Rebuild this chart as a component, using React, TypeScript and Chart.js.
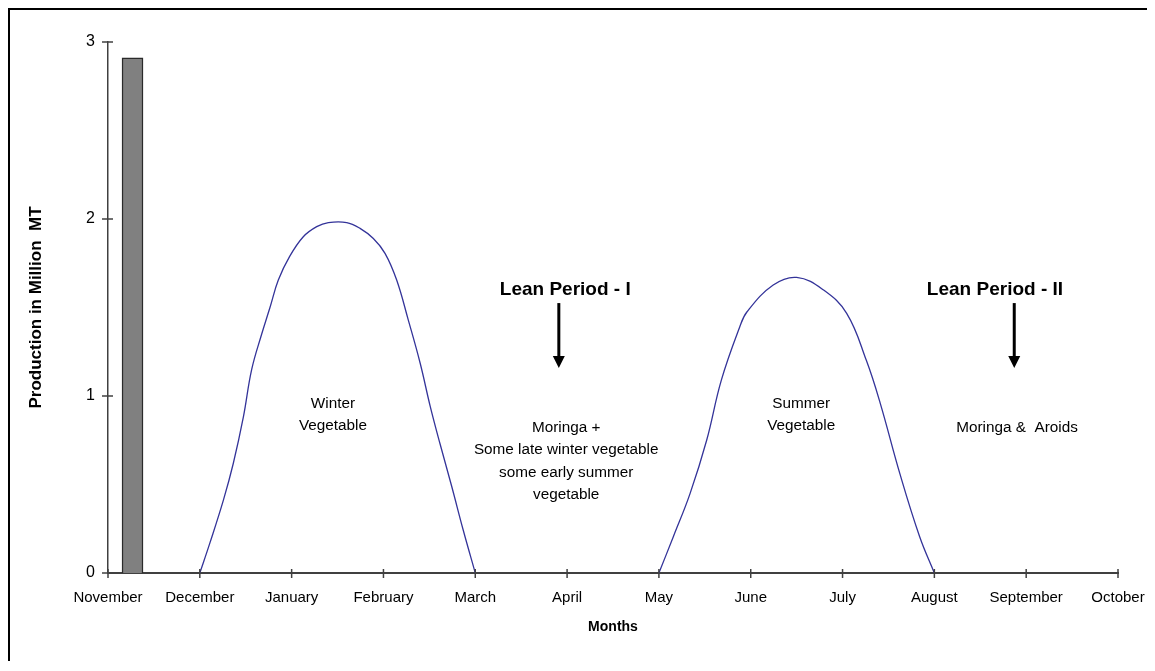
import React, { useEffect, useRef } from "react";
import { Chart, registerables } from "chart.js";

Chart.register(...registerables);

// ---- data ----
const monthLabels = [
  "November", "December", "January", "February", "March", "April",
  "May", "June", "July", "August", "September", "October",
];
const yTickValues = [0, 1, 2, 3];

const barMonthPos = [0.267];
const barValues = [2.91];

const winterX = [1.0, 1.11, 1.256, 1.365, 1.474, 1.565, 1.674, 1.764, 1.855, 1.98, 2.127, 2.273, 2.4, 2.6, 2.745, 2.89, 3.017, 3.144, 3.27, 3.4, 3.51, 3.616, 3.743, 3.87, 4.0];
const winterY = [0, 0.17, 0.41, 0.62, 0.88, 1.15, 1.35, 1.5, 1.655, 1.79, 1.9, 1.957, 1.98, 1.98, 1.947, 1.89, 1.806, 1.655, 1.43, 1.185, 0.94, 0.73, 0.49, 0.24, 0];

const summerX = [6.0, 6.157, 6.34, 6.52, 6.68, 6.88, 6.96, 7.245, 7.5, 7.79, 8.045, 8.26, 8.41, 8.625, 8.84, 9.0];
const summerY = [0, 0.205, 0.45, 0.75, 1.09, 1.39, 1.476, 1.627, 1.67, 1.6, 1.467, 1.2, 0.96, 0.56, 0.205, 0];

const yAxisTitle = "Production in Million  MT";
const xAxisTitle = "Months";

const noteTexts = [
  ["Winter", "Vegetable"],
  ["Summer", "Vegetable"],
  ["Moringa +", "Some late winter vegetable", "some early summer", "vegetable"],
  ["Moringa &  Aroids"],
];
const noteX = [2.45, 7.55, 4.99, 9.9];
const noteY = [0.955, 0.955, 0.82, 0.82];

const leanTitles = ["Lean Period - I", "Lean Period - II"];
const leanTitleX = [4.98, 9.66];
const leanTitleY = [1.6, 1.6];
const leanArrowX = [4.91, 9.87];
const leanArrowTop = [1.525, 1.525];
const leanArrowBottom = [1.158, 1.158];

// ---- styles ----
const SANS = "'Liberation Sans', Arial, sans-serif";
const AXIS_COLOR = "#404040";
const LINE_COLOR = "#333399";

const overlayPlugin = {
  id: "overlay",
  afterDraw(chart: any) {
    const { ctx } = chart;
    const x = chart.scales.x;
    const y = chart.scales.y;
    ctx.save();
    // tick marks crossing the axes
    ctx.strokeStyle = AXIS_COLOR;
    ctx.lineWidth = 1.5;
    const y0 = y.getPixelForValue(0);
    for (let i = 0; i < monthLabels.length; i++) {
      const px = x.getPixelForValue(i);
      ctx.beginPath();
      ctx.moveTo(px, y0 - 4);
      ctx.lineTo(px, y0 + 5);
      ctx.stroke();
    }
    const x0 = x.getPixelForValue(0);
    for (const v of yTickValues) {
      const py = y.getPixelForValue(v);
      ctx.beginPath();
      ctx.moveTo(x0 - 6, py);
      ctx.lineTo(x0 + 5, py);
      ctx.stroke();
    }
    // notes
    ctx.fillStyle = "#000";
    ctx.textAlign = "center";
    ctx.textBaseline = "middle";
    ctx.font = `15.3px ${SANS}`;
    noteTexts.forEach((lines, i) => {
      const cx = x.getPixelForValue(noteX[i]);
      const cy = y.getPixelForValue(noteY[i]);
      lines.forEach((t, j) => ctx.fillText(t, cx, cy + j * 22.3));
    });
    // lean period titles
    ctx.font = `bold 19px ${SANS}`;
    leanTitles.forEach((t, i) => {
      ctx.fillText(t, x.getPixelForValue(leanTitleX[i]), y.getPixelForValue(leanTitleY[i]));
    });
    // arrows
    ctx.strokeStyle = "#000";
    ctx.lineWidth = 3;
    leanArrowX.forEach((ax, i) => {
      const px = x.getPixelForValue(ax);
      const top = y.getPixelForValue(leanArrowTop[i]);
      const bot = y.getPixelForValue(leanArrowBottom[i]);
      ctx.beginPath();
      ctx.moveTo(px, top);
      ctx.lineTo(px, bot - 10);
      ctx.stroke();
      ctx.beginPath();
      ctx.moveTo(px - 6, bot - 12);
      ctx.lineTo(px + 6, bot - 12);
      ctx.lineTo(px, bot);
      ctx.closePath();
      ctx.fill();
    });
    ctx.restore();
  },
};

export default function App() {
  const canvasRef = useRef<HTMLCanvasElement | null>(null);

  useEffect(() => {
    if (!canvasRef.current) return;
    const chart = new Chart(canvasRef.current, {
      type: "scatter",
      data: {
        datasets: [
          {
            type: "bar",
            label: "Production",
            data: barMonthPos.map((v, i) => ({ x: v, y: barValues[i] })),
            backgroundColor: "#808080",
            borderColor: "#2a2a2a",
            borderWidth: 1.5,
            barThickness: 21,
          } as any,
          {
            type: "line",
            label: "Winter Vegetable",
            data: winterX.map((v, i) => ({ x: v, y: winterY[i] })),
            borderColor: LINE_COLOR,
            borderWidth: 1.3,
            pointRadius: 0,
            tension: 0.4,
            fill: false,
          } as any,
          {
            type: "line",
            label: "Summer Vegetable",
            data: summerX.map((v, i) => ({ x: v, y: summerY[i] })),
            borderColor: LINE_COLOR,
            borderWidth: 1.3,
            pointRadius: 0,
            tension: 0.4,
            fill: false,
          } as any,
        ],
      },
      options: {
        animation: false,
        responsive: false,
        devicePixelRatio: 1,
        layout: { padding: { top: 32, right: 27, left: 0, bottom: 0 } },
        plugins: {
          legend: { display: false },
          tooltip: { enabled: false },
        },
        scales: {
          x: {
            type: "linear",
            offset: false,
            min: 0,
            max: 11,
            grid: { display: false, drawTicks: false, offset: false },
            border: { display: true, color: AXIS_COLOR, width: 2 },
            ticks: {
              stepSize: 1,
              autoSkip: false,
              maxRotation: 0,
              padding: 16,
              color: "#000",
              font: { family: SANS, size: 15 },
              callback: (v: any) => monthLabels[v] ?? "",
            },
            title: {
              display: true,
              text: xAxisTitle,
              color: "#000",
              font: { family: SANS, size: 14, weight: "bold" },
              padding: { top: 0, bottom: 25 },
            },
            afterFit: (s: any) => {
              s.height = 88;
              s.paddingLeft = 0;
              s.paddingRight = 0;
            },
          },
          y: {
            type: "linear",
            min: 0,
            max: 3,
            grid: { display: false, drawTicks: false },
            border: { display: true, color: AXIS_COLOR, width: 1.5 },
            ticks: {
              stepSize: 1,
              padding: 13,
              color: "#000",
              font: { family: SANS, size: 16 },
            },
            title: {
              display: true,
              text: yAxisTitle,
              color: "#000",
              font: { family: SANS, size: 17, weight: "bold" },
              padding: { top: 16, bottom: 0 },
            },
            afterFit: (s: any) => {
              s.width = 98;
              s.paddingTop = 0;
              s.paddingBottom = 0;
            },
          },
        },
      },
      plugins: [overlayPlugin],
    } as any);
    return () => chart.destroy();
  }, []);

  return (
    <div style={{ borderTop: "2px solid #000", borderLeft: "2px solid #000", background: "#fff" }}>
      <canvas ref={canvasRef} width={1135} height={651} style={{ display: "block" }} />
    </div>
  );
}
